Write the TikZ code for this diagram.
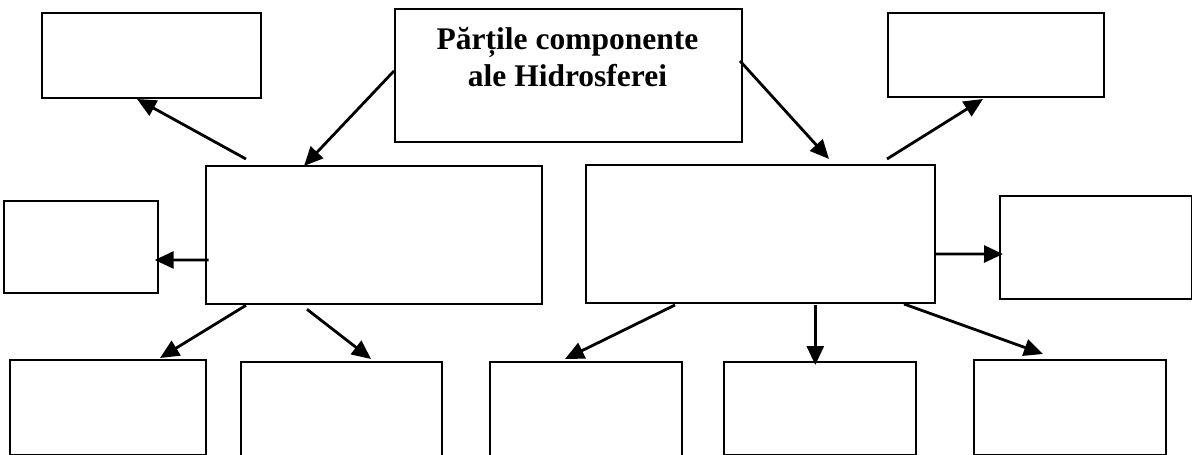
\documentclass[tikz,border=0pt]{standalone}
\usepackage{fontspec}
\setmainfont{Liberation Serif}
\usetikzlibrary{arrows.meta,calc}
\tikzset{
  box/.style={draw, line width=2pt, inner sep=0pt, anchor=north west},
  arr/.style={line width=2.8pt, -{Triangle[length=19pt,width=17pt]}},
}
\begin{document}
\begin{tikzpicture}[x=1pt,y=-1pt]
\useasboundingbox (0,0) rectangle (1192,455);
% boxes
\node[box, minimum width=219pt, minimum height=85pt] (tl) at (40.7,11.7) {};
\node[box, minimum width=346.7pt, minimum height=132.7pt] (c) at (394,8.3) {};
\node[anchor=base, align=center, font=\fontsize{31.5pt}{37pt}\selectfont\bfseries] (ct) at (567.5,86.7) {Părțile componente\\ale Hidrosferei};
\node[box, minimum width=216pt, minimum height=84pt] (tr) at (887,11.7) {};
\node[box, minimum width=336.3pt, minimum height=138.3pt] (ml) at (205,165) {};
\node[box, minimum width=349pt, minimum height=137.7pt] (mr) at (585,164) {};
\node[box, minimum width=154pt, minimum height=92pt] (ls) at (2.7,200) {};
\node[box, minimum width=192pt, minimum height=103.3pt] (rs) at (999,194.7) {};
\node[box, minimum width=196pt, minimum height=94.5pt] (b1) at (9.3,359) {};
\node[box, minimum width=200.7pt, minimum height=120pt] (b2) at (240,361) {};
\node[box, minimum width=192pt, minimum height=120pt] (b3) at (489,361) {};
\node[box, minimum width=192pt, minimum height=92.5pt] (b4) at (723.3,361) {};
\node[box, minimum width=192.3pt, minimum height=94.5pt] (b5) at (973,359) {};
% connectors
\draw[arr] ([shift={(41,-6)}]ml.north west) -- ([shift={(96.3,0.3)}]tl.south west);
\draw[arr] ([shift={(0,-4.7)}]c.west) -- ([shift={(99,1)}]ml.north west);
\draw[arr] ([shift={(-2.7,-14.7)}]c.east) -- ([shift={(244,-5)}]mr.north west);
\draw[arr] ([shift={(302,-5)}]mr.north west) -- ([shift={(96,1.3)}]tr.south west);
\draw[arr] ([shift={(3.7,24.8)}]ml.west) -- ([shift={(-4,13)}]ls.east);
\draw[arr] ([shift={(0,20.1)}]mr.east) -- ([shift={(4,6.7)}]rs.west);
\draw[arr] ([shift={(41,0)}]ml.south west) -- ([shift={(150.7,-1)}]b1.north west);
\draw[arr] ([shift={(102,4)}]ml.south west) -- ([shift={(131,-2)}]b2.north west);
\draw[arr] ([shift={(90,1.3)}]mr.south west) -- ([shift={(76,-2)}]b3.north west);
\draw[arr] ([shift={(230.3,1.3)}]mr.south west) -- ([shift={(92,4)}]b4.north west);
\draw[arr] ([shift={(319,0.3)}]mr.south west) -- ([shift={(70,-5)}]b5.north west);
\end{tikzpicture}
\end{document}
